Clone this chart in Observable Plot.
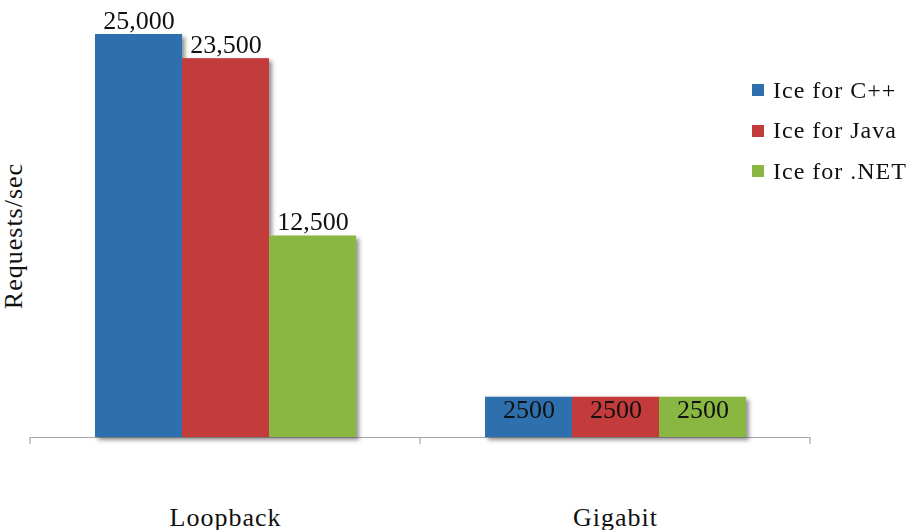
<!DOCTYPE html>
<html><head><meta charset="utf-8">
<script src="https://cdn.jsdelivr.net/npm/d3@7"></script>
<script src="https://cdn.jsdelivr.net/npm/@observablehq/plot@0.6"></script>
<style>
body{margin:0;background:#fff;}
#chart{position:relative;width:907px;height:530px;font-family:"Liberation Serif","Times New Roman",serif;}
#legend{position:absolute;left:752px;top:70px;font-family:"Liberation Serif","Times New Roman",serif;font-size:24px;letter-spacing:1px;color:#111;}
.row{display:flex;align-items:center;height:40.5px;white-space:nowrap;}
.sw{width:12px;height:12px;margin-right:9px;flex:none;}
</style></head><body><div id="chart"></div>
<script>
const categories = ["Loopback", "Gigabit"];
const series = ["Ice for C++", "Ice for Java", "Ice for .NET"];
const loopbackValues = [25000, 23500, 12500];
const gigabitValues = [2500, 2500, 2500];
const colors = ["#2e70ad", "#c43b3b", "#8ab743"];
const yLabel = "Requests/sec";

const data = [];
categories.forEach((c, i) => {
  const vals = i === 0 ? loopbackValues : gigabitValues;
  series.forEach((s, j) => data.push({category: c, series: s, value: vals[j]}));
});

const font = '"Liberation Serif","Times New Roman",serif';
const plot = Plot.plot({
  width: 907, height: 530,
  marginTop: 34, marginBottom: 93, marginLeft: 30, marginRight: 97,
  style: {fontFamily: font, fontSize: "26px", background: "white", color: "#111", overflow: "visible"},
  fx: {domain: categories, padding: 0, axis: null},
  x: {domain: series, paddingInner: 0, paddingOuter: 0.733, axis: null},
  y: {domain: [0, 25000], axis: null},
  color: {domain: series, range: colors},
  marks: [
    Plot.ruleY([0], {stroke: "#a6a6a6", strokeWidth: 1.2}),
    Plot.barY(data, {fx: "category", x: "series", y: "value", fill: "series"}),
    Plot.text(data.filter(d => d.category === categories[0]), {
      fx: "category", x: "series", y: "value",
      text: d => d3.format(",")(d.value), lineAnchor: "bottom", dy: -6, fill: "#111"
    }),
    Plot.text(data.filter(d => d.category === categories[1]), {
      fx: "category", x: "series", y: "value",
      text: d => d3.format("d")(d.value), lineAnchor: "bottom", dy: 21, fill: "#111"
    }),
    Plot.text(categories, {fx: d => d, text: d => d, frameAnchor: "bottom", lineAnchor: "bottom", dy: 88, fill: "#111", className: "spaced"}),
    Plot.text([yLabel], {fx: () => categories[0], text: d => d, frameAnchor: "left", textAnchor: "middle", rotate: -90, dx: -17, fill: "#111", className: "spaced"})
  ]
});

const svg = d3.select(plot);
svg.selectAll(".spaced text").style("letter-spacing", "1px");
// drop shadow on bars
const defs = svg.insert("defs", ":first-child");
const f = defs.append("filter").attr("id", "barshadow")
  .attr("x", "-10%").attr("y", "-10%").attr("width", "130%").attr("height", "130%");
f.append("feDropShadow").attr("dx", 3).attr("dy", 3).attr("stdDeviation", 2.2)
  .attr("flood-color", "#4a4a4a").attr("flood-opacity", 0.6);
svg.selectAll('g[aria-label="bar"]').attr("filter", "url(#barshadow)");

// category boundary ticks on the baseline
const fxs = plot.scale("fx");
const r = fxs && fxs.range ? fxs.range : [30, 810];
const y0 = plot.scale("y").range[0];
const n = categories.length;
const tickG = svg.append("g").attr("stroke", "#a6a6a6").attr("stroke-width", 1.2);
for (let i = 0; i <= n; i++) {
  const x = r[0] + i * (r[1] - r[0]) / n;
  tickG.append("line").attr("x1", x).attr("x2", x).attr("y1", y0).attr("y2", y0 + 7);
}

const chart = document.getElementById("chart");
chart.appendChild(plot);

// legend
const cs = plot.scale("color");
const legend = d3.select(chart).append("div").attr("id", "legend");
cs.domain.forEach((s, i) => {
  const row = legend.append("div").attr("class", "row");
  row.append("div").attr("class", "sw").style("background", cs.range[i]);
  row.append("span").text(s);
});
</script></body></html>
